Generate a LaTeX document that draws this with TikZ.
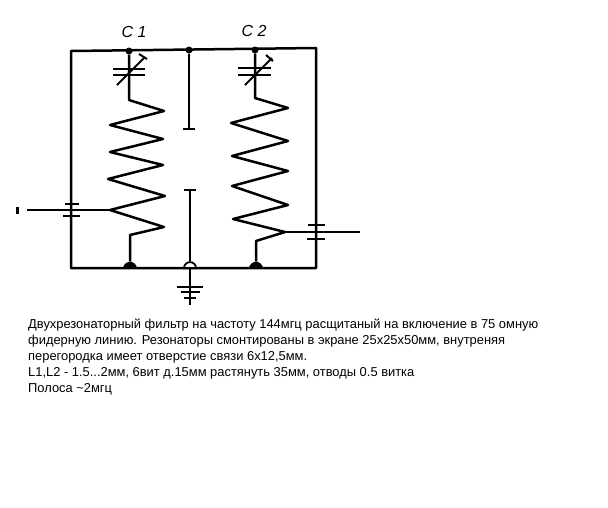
\documentclass[tikz,border=0pt]{standalone}
\usepackage{fontspec}
\setmainfont{Liberation Sans}
\usetikzlibrary{shapes.geometric}
\tikzset{
	wire/.style={line width=2.5pt, line join=round},
	thinwire/.style={line width=2pt, line join=round},
	plate/.style={line width=2pt},
	dot/.style={circle, fill=black, inner sep=0pt, minimum size=7pt},
	dome/.style={semicircle, fill=black, inner sep=0pt, minimum width=13pt, minimum height=7pt, anchor=south},
	opendome/.style={semicircle, draw=black, fill=white, line width=1.8pt, inner sep=0pt, minimum width=11pt, minimum height=6pt, anchor=south},
	hand/.style={font=\fontsize{16}{16}\selectfont\itshape, inner sep=0pt},
	caption/.style={font=\fontsize{12.9}{16}\selectfont, align=left, anchor=north west, inner sep=0pt}
}
\begin{document}
\begin{tikzpicture}[x=1pt, y=-1pt]
	\useasboundingbox (0,0) rectangle (608,507);

	% screen
	\coordinate (tl) at (71,51);
	\coordinate (tr) at (316,48);
	\coordinate (bl) at (71,268);
	\coordinate (br) at (316,268);
	\draw[wire] (tl) -- (tr) -- (br) -- (bl) -- cycle;

	% junctions on the screen
	\node[dot] (ta) at (129,51) {};
	\node[dot] (tb) at (189,50) {};
	\node[dot] (tc) at (255,50) {};
	\node[dome] (ba) at (130,269) {};
	\node[dome] (bc) at (256,269) {};
	\node[opendome] (bb) at (190,269) {};

	% partition
	\coordinate (pa) at (189,129);
	\coordinate (pb) at (190,190);
	\coordinate (ge) at (190,305);
	\draw[thinwire] (tb) -- (pa);
	\draw[plate] (183,129) -- (195,129);
	\draw[thinwire] (pb) -- (bb.north);
	\draw[plate] (184,190) -- (196,190);

	% ground
	\draw[wire] (190,268) -- (ge);
	\draw[plate] (177,287) -- (203,287);
	\draw[plate] (181,292) -- (200,292);
	\draw[plate] (184,298) -- (196,298);

	% first resonator
	\coordinate (c1a) at (129,100);
	\coordinate (c1b) at (130,235);
	\coordinate (in) at (27,210);
	\coordinate (i1) at (110,210);
	\draw[wire] (ta) -- (c1a) -- (164,111) -- (110,125) -- (163,139) -- (110,152) -- (163,165)
		-- (108,179) -- (165,196) -- (i1) -- (164,227) -- (c1b) -- (ba);
	\draw[plate] (113,69) -- (145,69);
	\draw[plate] (113,74.5) -- (145,74.5);
	\draw[thinwire] (117,85) -- (145,57);
	\draw[thinwire] (139,54) -- (147,59);
	\node[hand] (c1) at (134,32) {C 1};

	% input
	\draw[thinwire] (in) -- (i1);
	\draw[plate] (65,204) -- (79,204);
	\draw[plate] (63,216) -- (80,216);
	\draw[wire] (17.5,207) -- (17.5,214);

	% second resonator
	\coordinate (c2a) at (255,98);
	\coordinate (c2b) at (256,241);
	\coordinate (out) at (360,232);
	\coordinate (i2) at (285,232);
	\draw[wire] (tc) -- (c2a) -- (288,108) -- (231,123) -- (288,141) -- (232,156) -- (288,171)
		-- (232,186) -- (288,205) -- (233,219) -- (i2) -- (c2b) -- (bc);
	\draw[plate] (238,68) -- (271,68);
	\draw[plate] (238,75) -- (271,75);
	\draw[thinwire] (245,85) -- (272,58);
	\draw[thinwire] (266,55) -- (273,61);
	\node[hand] (c2) at (254,31) {C 2};

	% output
	\draw[thinwire] (i2) -- (out);
	\draw[plate] (308,225) -- (325,225);
	\draw[plate] (307,239) -- (325,239);

	% text
	\node[caption] (note) at (28,319) {Двухрезонаторный фильтр на частоту 144мгц расщитаный на включение в 75 омную\\
		фидерную линию. Резонаторы смонтированы в экране 25х25х50мм, внутреняя\\
		перегородка имеет отверстие связи 6х12,5мм.\\
		L1,L2 - 1.5...2мм, 6вит д.15мм растянуть 35мм, отводы 0.5 витка\\
		Полоса \textasciitilde2мгц};
\end{tikzpicture}
\end{document}
